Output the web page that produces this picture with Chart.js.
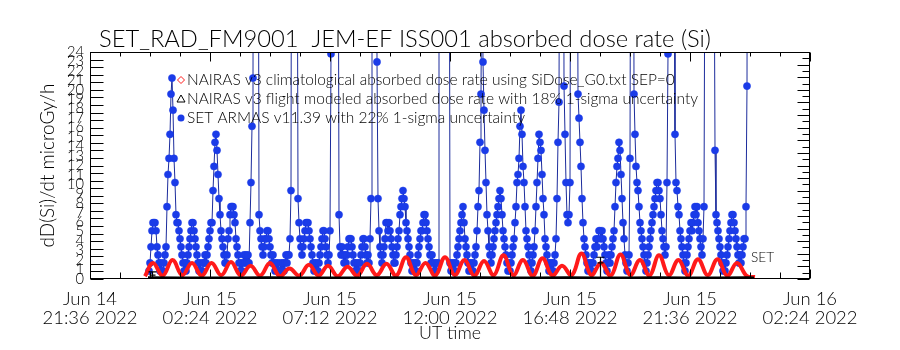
<!DOCTYPE html>
<html><head><meta charset="utf-8">
<script src="https://cdn.jsdelivr.net/npm/chart.js@4.4.1/dist/chart.umd.min.js"></script>
<style>html,body{margin:0;padding:0;background:#fff;}</style>
</head><body>
<canvas id="c" width="900" height="350"></canvas>
<script>
// ---------------- data ----------------
const titleText = 'SET_RAD_FM9001  JEM-EF ISS001 absorbed dose rate (Si)';
const xTitle = 'UT time';
const yTitle = 'dD(Si)/dt microGy/h';
// x values are hours after Jun 14 2022 21:36 UT
const xTickHours = [0, 4.8, 9.6, 14.4, 19.2, 24.0, 28.8];
const xTickLabels = [['Jun 14','21:36 2022'],['Jun 15','02:24 2022'],['Jun 15','07:12 2022'],['Jun 15','12:00 2022'],['Jun 15','16:48 2022'],['Jun 15','21:36 2022'],['Jun 16','02:24 2022']];
const legendLabels = [
  'NAIRAS v3 climatological absorbed dose rate using SiDose_G0.txt SEP=0',
  'NAIRAS v3 flight modeled absorbed dose rate with 18% 1-sigma uncertainty',
  'SET ARMAS v11.39 with 22% 1-sigma uncertainty'
];
const seriesTag = 'SET';

// SET ARMAS measured dose rate, sampled every 2.4 min from 2.36 h
const blueStartHour = 2.36;
const blueStepHour = 0.04;
const blueDose = [
0.85,1.7,3.4,5.1,5.95,5.95,5.95,5.1,3.4,2.55,
1.7,0.85,1.7,0.85,0.85,1.7,2.55,3.4,7.65,11.05,
12.75,15.3,19.55,21.25,17.85,12.75,10.2,6.8,5.95,5.95,
5.1,4.25,3.4,2.55,1.7,0.85,1.7,0.85,1.7,2.55,
3.4,4.25,5.1,5.95,5.95,5.1,4.25,3.4,2.55,1.7,
0.85,1.7,0.85,0.85,1.7,1.7,2.55,1.7,2.55,3.4,
4.25,5.1,5.95,5.95,9.35,11.9,14.45,15.3,13.6,11.05,
8.5,6.8,5.1,4.25,3.4,2.55,1.7,1.7,2.55,4.25,
5.1,6.8,7.65,7.65,7.65,6.8,5.95,4.25,3.4,2.55,
1.7,0.85,1.7,0.85,1.7,2.55,1.7,2.55,1.7,2.55,
1.7,5.95,10.2,16.15,21.25,90,150,150,90,60,
6.8,5.1,4.25,3.4,2.55,3.4,4.25,4.25,5.1,5.1,
4.25,3.4,2.55,1.7,2.55,1.7,0.85,1.7,0.85,1.7,
0.85,0.85,1.7,0.85,1.7,0.85,1.7,2.55,1.7,2.55,
2.55,4.25,9.35,80,150,120,90,70,50,8.5,
5.95,4.25,3.4,2.55,3.4,4.25,5.1,5.95,5.95,5.95,
5.1,4.25,3.4,2.55,1.7,0.85,1.7,0.85,1.7,0.85,
1.7,2.55,3.4,4.25,5.1,5.1,4.25,3.4,2.55,1.7,
2.55,5.1,23.8,100,160,180,160,120,80,50,
6.8,3.4,2.55,3.4,2.55,1.7,2.55,1.7,2.55,3.4,
4.25,4.25,4.25,3.4,2.55,1.7,0.85,1.7,0.85,1.7,
0.85,1.7,2.55,3.4,4.25,4.25,3.4,2.55,1.7,2.55,
1.7,4.25,8.5,80,150,150,100,60,22.95,8.5,
5.1,3.4,2.55,1.7,2.55,3.4,4.25,5.95,5.95,5.1,
5.95,5.1,4.25,3.4,2.55,1.7,1.7,2.55,3.4,4.25,
5.1,6.8,7.65,8.5,9.35,8.5,7.65,5.95,5.1,4.25,
3.4,2.55,1.7,0.85,1.7,0.85,1.7,0.85,1.7,2.55,
3.4,4.25,5.1,5.1,5.95,6.8,6.8,5.95,5.1,4.25,
3.4,2.55,1.7,2.55,1.7,0.85,1.7,0.85,1.7,1.7,
60,150,200,200,200,200,200,200,150,100,
60,1.7,0.85,1.7,0.85,1.7,0.85,1.7,2.55,3.4,
4.25,5.1,5.95,6.8,7.65,5.95,4.25,3.4,2.55,1.7,
0.85,1.7,0.85,1.7,0.85,1.7,2.55,3.4,5.1,7.65,
9.35,14.45,19.55,40,22.95,17.85,13.6,10.2,6.8,5.1,
3.4,2.55,1.7,2.55,3.4,4.25,5.1,5.95,6.8,7.65,
8.5,9.35,8.5,6.8,5.1,4.25,3.4,2.55,1.7,0.85,
1.7,0.85,1.7,2.55,3.4,4.25,5.95,7.65,10.2,11.05,
12.75,16.15,17.85,15.3,11.9,10.2,7.65,5.1,4.25,3.4,
2.55,1.7,0.85,1.7,2.55,3.4,5.1,7.65,10.2,12.75,
15.3,14.45,13.6,11.05,8.5,6.8,4.25,3.4,2.55,1.7,
0.85,1.7,0.85,1.7,0.85,1.7,2.55,4.25,8.5,14.45,
18.7,60,150,150,80,20.4,15.3,10.2,6.8,5.95,
6.8,10.2,60,150,150,150,120,80,50,19.55,
17.0,14.45,11.9,8.5,5.95,4.25,3.4,2.55,1.7,0.85,
1.7,0.85,1.7,0.85,1.7,2.55,3.4,4.25,3.4,4.25,
5.1,5.1,4.25,5.1,4.25,3.4,2.55,1.7,0.85,1.7,
2.55,1.7,2.55,3.4,4.25,5.1,7.65,10.2,11.9,12.75,
14.45,13.6,11.05,8.5,5.95,4.25,2.55,1.7,0.85,1.7,
2.55,12.75,60,150,80,19.55,15.3,11.9,10.2,9.35,
7.65,5.95,5.1,4.25,3.4,2.55,1.7,0.85,1.7,2.55,
3.4,4.25,5.1,5.95,6.8,7.65,8.5,9.35,10.2,10.2,
9.35,8.5,6.8,5.1,4.25,3.4,2.55,3.4,10.2,23.8,
100,150,150,120,80,40,15.3,10.2,9.35,7.65,
6.8,5.1,4.25,3.4,2.55,1.7,0.85,1.7,2.55,3.4,
4.25,5.1,5.95,5.1,5.95,6.8,7.65,6.8,7.65,5.95,
5.1,4.25,3.4,2.55,4.25,7.65,40,120,150,150,
150,120,100,80,60,40,13.6,6.8,5.95,5.1,
4.25,3.4,2.55,1.7,0.85,1.7,0.85,1.7,2.55,3.4,
4.25,5.1,5.95,6.8,6.8,5.95,5.1,4.25,3.4,2.55,
1.7,2.55,1.7,2.55,3.4,4.25,4.25,7.65,20.4,80
];

// NAIRAS climatological dose rate (peaks and troughs of each half orbit)
const redHours = [2.20,2.52,2.91,3.30,3.69,4.08,4.47,4.86,5.25,5.64,6.03,6.42,6.81,7.20,7.59,7.98,8.37,8.76,9.14,9.52,9.91,10.30,10.69,11.08,11.47,11.86,12.25,12.64,13.03,13.42,13.81,14.20,14.59,14.98,15.37,15.76,16.15,16.54,16.93,17.32,17.71,18.10,18.49,18.88,19.27,19.66,20.05,20.44,20.83,21.22,21.61,22.00,22.38,22.76,23.15,23.54,23.93,24.32,24.71,25.10,25.49,25.88,26.28,26.60];
const redDose  = [0.30,1.7,0.35,2.0,0.4,1.7,0.35,1.7,0.4,1.8,0.35,1.4,0.35,1.7,0.3,1.1,0.35,1.5,0.35,1.4,0.3,1.3,0.35,1.6,0.4,1.6,0.35,2.3,0.4,1.7,0.35,2.3,0.4,2.0,0.35,1.9,0.4,2.5,0.4,2.0,0.35,2.2,0.35,1.4,0.4,2.7,0.4,1.7,0.35,2.6,0.4,2.0,0.35,2.5,0.4,2.0,0.35,2.1,0.4,2.1,0.35,1.7,0.3,0.2];

// NAIRAS flight modeled dose rate
const blackHours = [2.32,3.5,4.7,5.9,7.1,8.3,9.5,10.7,11.9,13.1,14.3,15.5,16.7,17.9,19.1,20.3,21.5,22.7,23.9,25.1,26.3,26.56];
const blackDose  = [0.12,0.10,0.11,0.10,0.12,0.10,0.11,0.10,0.12,0.11,0.10,0.12,0.11,0.10,0.12,0.11,0.10,0.12,0.11,0.10,0.12,0.10];

// 1-sigma uncertainty bars
const errHours = [2.46, 20.40];
const errMid   = [0.40, 1.70];
const errLow   = [0.08, 0.15];
const errHigh  = [0.75, 2.30];

// ---------------- build ----------------
const FAMILY = "Lato, 'DejaVu Sans', sans-serif";
const WEIGHT = '300';
const mctx = document.createElement('canvas').getContext('2d');
function fitSize(text, target){ mctx.font = WEIGHT + ' 100px ' + FAMILY; return 100 * target / mctx.measureText(text).width; }
const titleSize = fitSize(titleText, 612);
const legendSize = fitSize(legendLabels[0], 488);
const xTickSize = fitSize('21:36 2022', 95);
const xTitleSize = fitSize(xTitle, 62);
const yTitleSize = fitSize(yTitle, 164);
const yTickSize = fitSize('24', 17);
const tagSize = fitSize(seriesTag, 23);

const bluePts = blueDose.map((v,i)=>({x: blueStartHour + i*blueStepHour, y: v}));
const redPts = redHours.map((h,i)=>({x:h, y:redDose[i]}));
const blackPts = blackHours.map((h,i)=>({x:h, y:blackDose[i]}));
const blueEndHour = blueStartHour + (blueDose.length-1)*blueStepHour;

const errPlugin = { id:'errbars', afterDatasetsDraw(chart){
  const {ctx, scales:{x,y}} = chart;
  ctx.save(); ctx.strokeStyle='#000'; ctx.lineWidth=1.2;
  errHours.forEach((h,i)=>{
    const px = Math.round(x.getPixelForValue(h))+0.5;
    const yl = y.getPixelForValue(errLow[i]), yh = y.getPixelForValue(errHigh[i]), ym = y.getPixelForValue(errMid[i]);
    ctx.beginPath();
    ctx.moveTo(px, yl); ctx.lineTo(px, yh);
    ctx.moveTo(px-4, yl); ctx.lineTo(px+4, yl);
    ctx.moveTo(px-4, yh); ctx.lineTo(px+4, yh);
    ctx.moveTo(px-3, ym); ctx.lineTo(px+3, ym);
    ctx.stroke();
  });
  ctx.restore();
}};

const framePlugin = { id:'frame', afterDraw(chart){
  const {ctx, chartArea:a, scales:{x,y}} = chart;
  ctx.save(); ctx.strokeStyle='#000'; ctx.lineWidth=1;
  const L=Math.round(a.left)+0.5, R=Math.round(a.right)-0.5, T=Math.round(a.top)+0.5, B=Math.round(a.bottom)-0.5;
  ctx.strokeRect(L, T, R-L, B-T);
  ctx.beginPath();
  for (let k=0; k<=24; k++){
    const h = k*1.2; const px = Math.round(x.getPixelForValue(h))+0.5;
    const major = (k%4===0);
    ctx.moveTo(px, B); ctx.lineTo(px, B-(major?9:6));
    ctx.moveTo(px, T); ctx.lineTo(px, T+(major?9:4));
  }
  for (let k=0; k<=30; k++){
    const py = Math.round(y.getPixelForValue(k*0.8))+0.5;
    ctx.moveTo(L, py); ctx.lineTo(L+13, py);
  }
  for (let k=0; k<=36; k++){
    const py = Math.round(y.getPixelForValue(k*24/36))+0.5;
    ctx.moveTo(R, py); ctx.lineTo(R-(k%2===0?12:7), py);
  }
  ctx.stroke();
  ctx.restore();
}};

const legendPlugin = { id:'leg', afterDraw(chart){
  const {ctx, scales:{x,y}} = chart;
  ctx.save();
  ctx.font = WEIGHT + ' ' + legendSize.toFixed(2)+'px '+FAMILY;
  ctx.fillStyle='#000'; ctx.textBaseline='middle'; ctx.textAlign='left';
  const rows=[80,99,118], sx=181, tx=187;
  ctx.strokeStyle='#ff1a1a'; ctx.lineWidth=1;
  ctx.beginPath(); ctx.moveTo(sx,rows[0]-3.5); ctx.lineTo(sx+3.5,rows[0]); ctx.lineTo(sx,rows[0]+3.5); ctx.lineTo(sx-3.5,rows[0]); ctx.closePath(); ctx.stroke();
  ctx.strokeStyle='#000';
  ctx.beginPath(); ctx.moveTo(sx,rows[1]-4); ctx.lineTo(sx+4,rows[1]+3); ctx.lineTo(sx-4,rows[1]+3); ctx.closePath(); ctx.stroke();
  ctx.fillStyle='#1a3be8';
  ctx.beginPath(); ctx.arc(sx,rows[2],3.5,0,Math.PI*2); ctx.fill();
  ctx.fillStyle='#000';
  legendLabels.forEach((t,i)=>ctx.fillText(t, tx, rows[i]));
  ctx.font = WEIGHT + ' ' + tagSize.toFixed(2)+'px '+FAMILY;
  ctx.fillText(seriesTag, x.getPixelForValue(blueEndHour)+3, y.getPixelForValue(2.3));
  ctx.restore();
}};

new Chart(document.getElementById('c'), {
  type:'line',
  data:{ datasets:[
    { label: legendLabels[1], data: blackPts, borderColor:'#000', borderWidth:3, pointRadius:0, tension:0, order:0 },
    { label: legendLabels[0], data: redPts, borderColor:'#ff1a1a', borderWidth:4, pointRadius:0, tension:0.4, order:1 },
    { label: legendLabels[2], data: bluePts, borderColor:'#1c2c9c', borderWidth:1, pointRadius:3.6,
      pointBackgroundColor:'#1a3be8', pointBorderColor:'#1a3be8', pointBorderWidth:0.5, tension:0, order:2 }
  ]},
  options:{
    responsive:false, animation:false, devicePixelRatio:1,
    layout:{ padding:{ left:0, right:90, top:0, bottom:0 } },
    plugins:{
      legend:{display:false}, tooltip:{enabled:false},
      title:{ display:true, text:titleText, color:'#000',
        font:{family:FAMILY, size:titleSize, weight:WEIGHT, lineHeight:1.2},
        padding:{top:25, bottom:52-25-titleSize*1.2} }
    },
    scales:{
      x:{ type:'linear', min:0, max:28.8, grid:{display:false, drawTicks:false}, border:{display:false},
        afterBuildTicks: s => { s.ticks = xTickHours.map(v=>({value:v})); },
        ticks:{ autoSkip:false, maxRotation:0, minRotation:0, padding:10, color:'#000',
          font:{family:FAMILY, size:xTickSize, weight:WEIGHT, lineHeight:1.05},
          callback:(v,i)=>xTickLabels[i] },
        title:{ display:true, text:xTitle, color:'#000', font:{family:FAMILY, size:xTitleSize, weight:WEIGHT, lineHeight:1.2},
          padding:{top:0, bottom:17-0.6*xTitleSize} },
        afterFit: s => { s.height = 71; } },
      y:{ type:'linear', min:0, max:24, grid:{display:false, drawTicks:false}, border:{display:false},
        ticks:{ stepSize:1, autoSkip:false, padding:6, color:'#000', font:{family:FAMILY, size:yTickSize, weight:WEIGHT} },
        title:{ display:true, text:yTitle, color:'#000', font:{family:FAMILY, size:yTitleSize, weight:WEIGHT, lineHeight:1.2},
          padding:{top:48-0.6*yTitleSize, bottom:0} },
        afterFit: s => { s.width = 90; } }
    }
  },
  plugins:[errPlugin, framePlugin, legendPlugin]
});
</script>
</body></html>
